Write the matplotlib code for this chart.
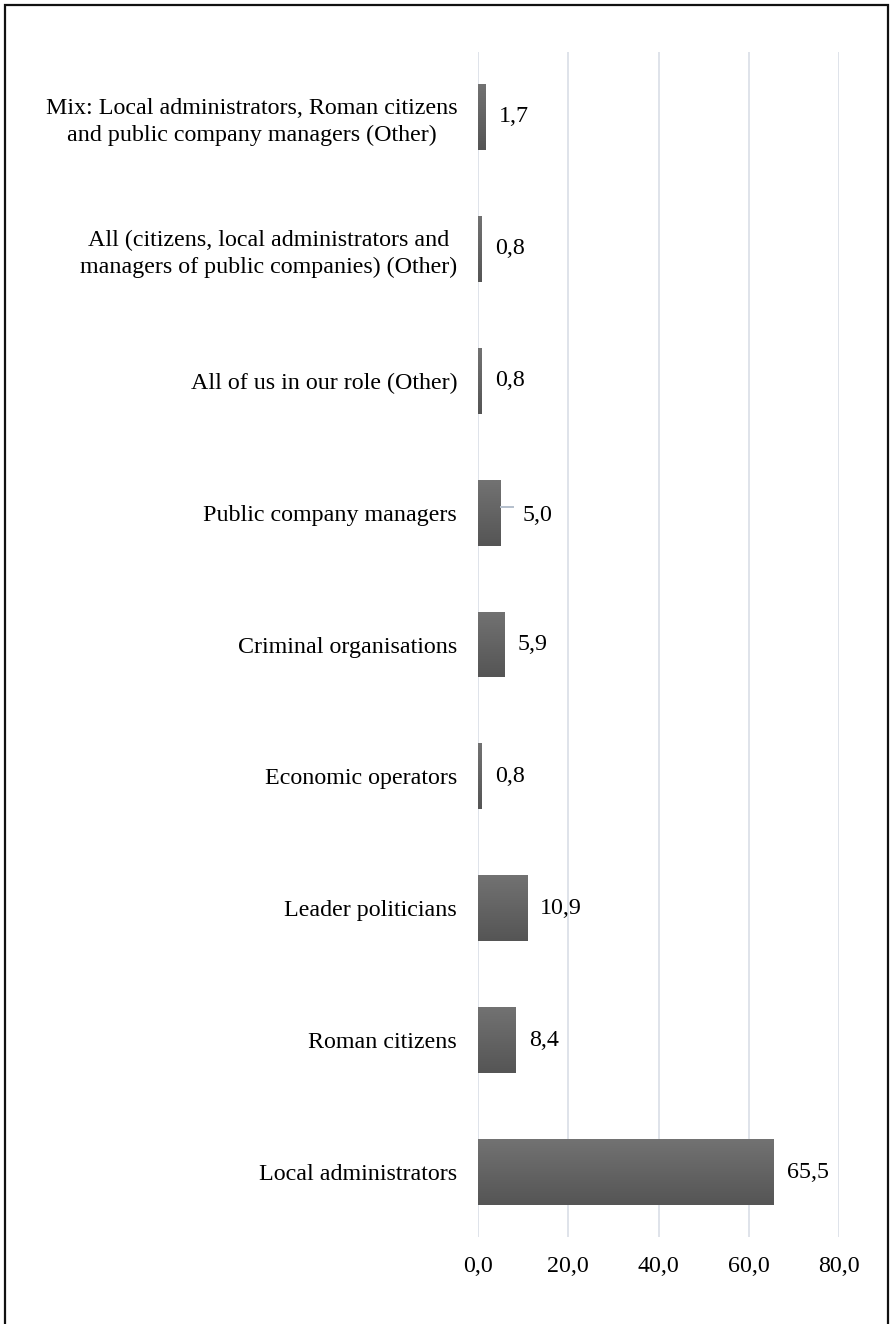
import numpy as np
import matplotlib
matplotlib.use("Agg")
import matplotlib.pyplot as plt
from matplotlib.ticker import FuncFormatter, FixedLocator
from matplotlib.patches import Rectangle
from matplotlib.lines import Line2D

# categories from bottom to top
categories = [
    "Local administrators",
    "Roman citizens",
    "Leader politicians",
    "Economic operators",
    "Criminal organisations",
    "Public company managers",
    "All of us in our role (Other)",
    "All (citizens, local administrators and\nmanagers of public companies) (Other)",
    "Mix: Local administrators, Roman citizens\nand public company managers (Other)",
]
values = [65.5, 8.4, 10.9, 0.8, 5.9, 5.0, 0.8, 0.8, 1.7]
xticks = [0, 20, 40, 60, 80]

plt.rcParams['font.family'] = ['Liberation Serif', 'DejaVu Serif']
plt.rcParams['font.size'] = 17.3

fig = plt.figure(figsize=(8.9, 13.24), dpi=100)
ax = fig.add_axes([478 / 890, 1 - 1237 / 1324, (839 - 478) / 890, (1237 - 52) / 1324])

y = np.arange(len(categories))
bar_h = 0.5
bars = ax.barh(y, values, height=bar_h, color="#606060", zorder=3)

# vertical gradient on each bar, lighter on top
grad = np.linspace(0, 1, 64).reshape(-1, 1)
cmap = matplotlib.colors.LinearSegmentedColormap.from_list("g", ["#555555", "#727272"])
for b in bars:
    x0, y0 = b.get_x(), b.get_y()
    w, h = b.get_width(), b.get_height()
    im = ax.imshow(grad, cmap=cmap, aspect="auto", origin="lower",
                   extent=[x0, x0 + w, y0, y0 + h], zorder=4)
    im.set_clip_path(b)

ax.set_xlim(0, 80)
ax.set_ylim(-0.49, len(categories) - 0.51)

ax.xaxis.set_major_locator(FixedLocator(xticks))
ax.xaxis.set_major_formatter(FuncFormatter(lambda v, p: f"{v:.1f}".replace(".", ",")))
ax.set_yticks(y)
ax.set_yticklabels(categories, multialignment="center", linespacing=1.35)
ax.tick_params(axis="x", length=0, pad=14)
ax.tick_params(axis="y", length=0, pad=15)
ax.grid(axis="x", color="#dfe3ea", linewidth=1.4, zorder=0)
for s in ax.spines.values():
    s.set_visible(False)

# value labels
for yi, v in zip(y, values):
    txt = f"{v:.1f}".replace(".", ",")
    if v == 5.0:
        ax.add_line(Line2D([v + 0.2, v + 2.8], [yi + 0.04, yi + 0.04],
                           color="#b4bfcc", linewidth=1.4, zorder=5))
        ax.text(v + 4.8, yi - 0.02, txt, va="center", ha="left", zorder=5)
    else:
        ax.text(v + 2.9, yi, txt, va="center", ha="left", zorder=5)

# outer frame
fig.add_artist(Rectangle((4.5 / 890, -0.01), (888 - 4.5) / 890, 1 - 5 / 1324 + 0.01,
                         transform=fig.transFigure, fill=False,
                         edgecolor="#111111", linewidth=1.6))

fig.savefig("out.png", dpi=100)
